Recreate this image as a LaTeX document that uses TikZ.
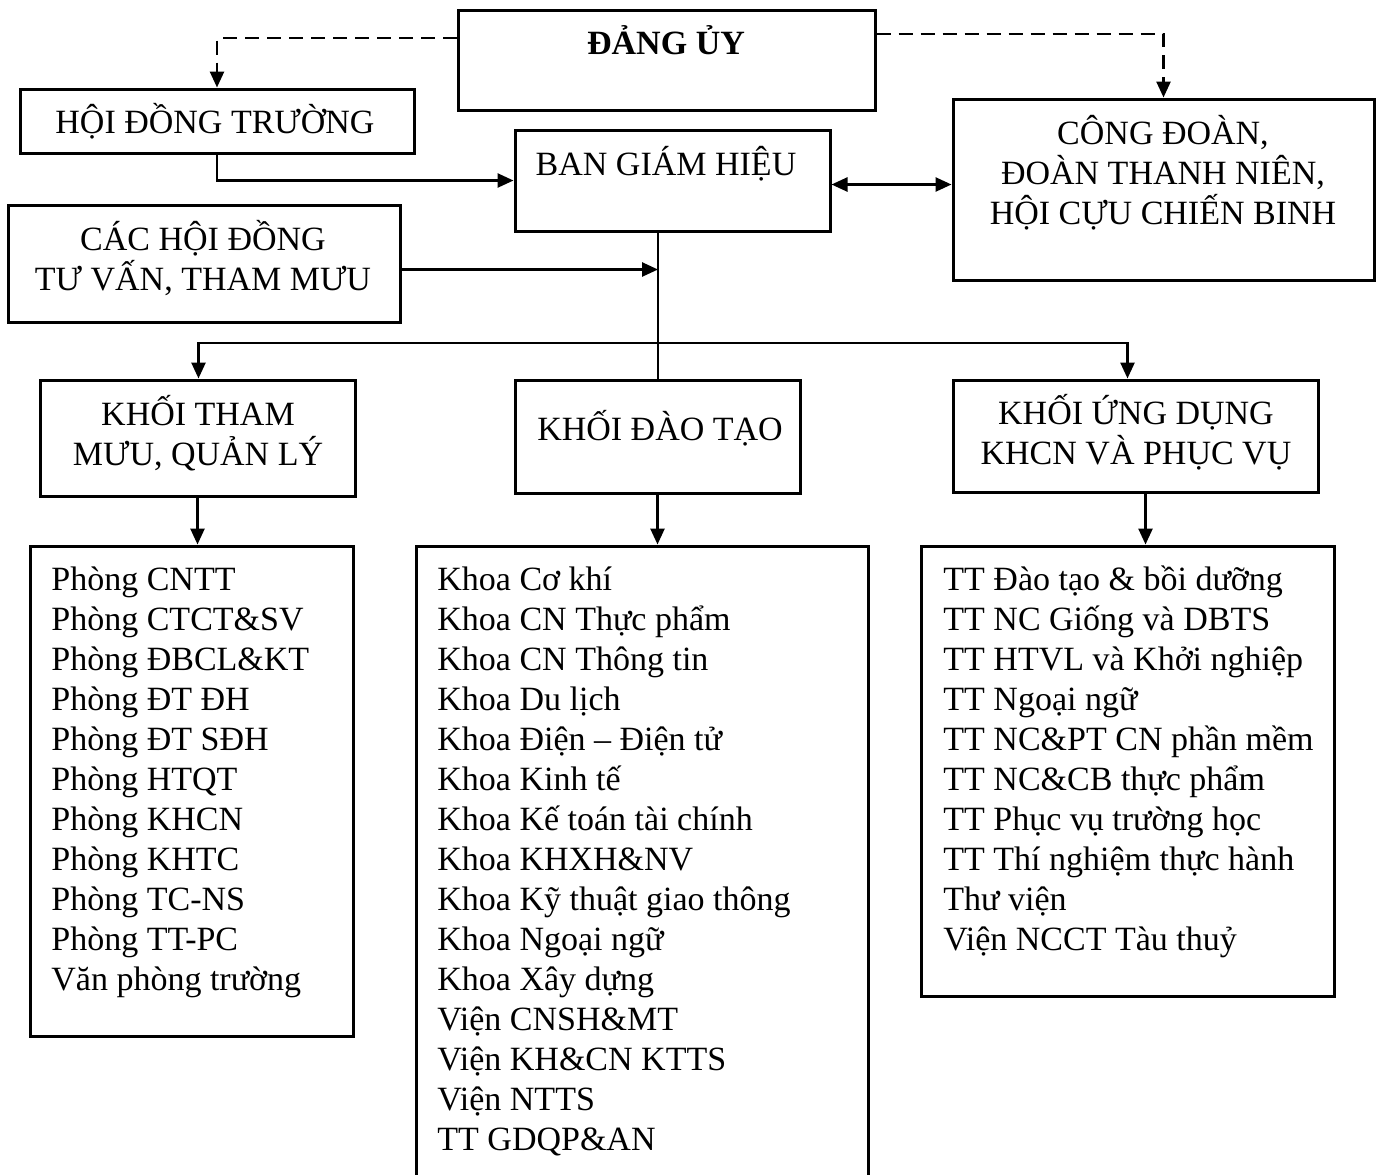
\documentclass[tikz,border=0pt]{standalone}
\usepackage{fontspec}
\setmainfont{Liberation Serif}
\usetikzlibrary{arrows.meta,fit}

\tikzset{
  box/.style={draw, line width=1.5pt, inner sep=0pt},
  txt/.style={font=\fontsize{17}{20}\selectfont, anchor=base, align=center, inner sep=0pt},
  item/.style={font=\fontsize{17}{20}\selectfont, anchor=base west, inner sep=0pt},
  arr/.style={line width=1.3pt, -{Triangle[length=8pt,width=7pt]}},
  biarr/.style={line width=1.3pt, {Triangle[length=8pt,width=7pt]}-{Triangle[length=8pt,width=7pt]}},
  dashline/.style={arr, dash pattern=on 7pt off 4pt}
}

\begin{document}
\begin{tikzpicture}[x=0.5pt, y=-0.5pt]
\useasboundingbox (0,0) rectangle (1384,1174);

\node[box, fit={(458,10) (875,110)}] (dang) {};
\node[box, fit={(20,89) (414,153)}] (hdt) {};
\node[box, fit={(515,130) (830,231)}] (bgh) {};
\node[box, fit={(953,99) (1374,280)}] (cd) {};
\node[box, fit={(8,205) (400,322)}] (chd) {};
\node[box, fit={(40,380) (355,496)}] (ktm) {};
\node[box, fit={(515,380) (800,493)}] (kdt) {};
\node[box, fit={(953,380) (1318,492)}] (kud) {};
\node[box, fit={(30,546) (353,1036)}] (phong) {};
\node[box, fit={(416,546) (868,1180)}] (khoa) {};
\node[box, fit={(921,546) (1334,996)}] (tt) {};

% multi-line text: anchor base sits on the last line
\node[txt, font=\fontsize{17}{20}\selectfont\bfseries] (dang-t) at (666,54) {ĐẢNG ỦY};
\node[txt] (hdt-t) at (215,133) {HỘI ĐỒNG TRƯỜNG};
\node[txt] (bgh-t) at (666,175) {BAN GIÁM HIỆU};
\node[txt] (cd-t) at (1163,224) {CÔNG ĐOÀN,\\ ĐOÀN THANH NIÊN,\\ HỘI CỰU CHIẾN BINH};
\node[txt] (chd-t) at (203,290) {CÁC HỘI ĐỒNG\\ TƯ VẤN, THAM MƯU};
\node[txt] (ktm-t) at (198,465) {KHỐI THAM\\ MƯU, QUẢN LÝ};
\node[txt] (kdt-t) at (660,440) {KHỐI ĐÀO TẠO};
\node[txt] (kud-t) at (1136,464) {KHỐI ỨNG DỤNG\\ KHCN VÀ PHỤC VỤ};

\foreach \t [count=\i from 0] in {Phòng CNTT, Phòng CTCT\&SV, Phòng ĐBCL\&KT, Phòng ĐT ĐH,
  Phòng ĐT SĐH, Phòng HTQT, Phòng KHCN, Phòng KHTC, Phòng TC-NS, Phòng TT-PC, Văn phòng trường}
  \node[item] (ph\i) at (51,590+40*\i) {\t};

\foreach \t [count=\i from 0] in {Khoa Cơ khí, Khoa CN Thực phẩm, Khoa CN Thông tin, Khoa Du lịch,
  Khoa Điện – Điện tử, Khoa Kinh tế, Khoa Kế toán tài chính, Khoa KHXH\&NV,
  Khoa Kỹ thuật giao thông, Khoa Ngoại ngữ, Khoa Xây dựng, Viện CNSH\&MT,
  Viện KH\&CN KTTS, Viện NTTS, TT GDQP\&AN}
  \node[item] (kh\i) at (437,590+40*\i) {\t};

\foreach \t [count=\i from 0] in {TT Đào tạo \& bồi dưỡng, TT NC Giống và DBTS, TT HTVL và Khởi nghiệp,
  TT Ngoại ngữ, TT NC\&PT CN phần mềm, TT NC\&CB thực phẩm, TT Phục vụ trường học,
  TT Thí nghiệm thực hành, Thư viện, Viện NCCT Tàu thuỷ}
  \node[item] (tt\i) at (943,590+40*\i) {\t};

\coordinate (bus) at (658,343);

\draw[dashline] ([yshift=11pt]dang.west) -| (hdt.north);
\draw[dashline] ([yshift=13pt]dang.east) -| (cd.north);
\draw[arr] (hdt.south) |- (bgh.west);
\draw[biarr] ([yshift=-2pt]bgh.east) -- ([yshift=-2pt]bgh.east -| cd.west);
\draw[arr] ([yshift=-3pt]chd.east) -- ([yshift=-3pt]chd.east -| bus);
\draw[line width=1.3pt] (bgh.south -| bus) -- (kdt.north -| bus);
\draw[arr] (bus) -| ([xshift=0.5pt]ktm.north);
\draw[arr] (bus) -| ([xshift=-4pt]kud.north);
\draw[arr] (ktm.south) -- (ktm.south |- phong.north);
\draw[arr] (kdt.south) -- (kdt.south |- khoa.north);
\draw[arr] ([xshift=5pt]kud.south) -- ([xshift=5pt]kud.south |- tt.north);

\end{tikzpicture}
\end{document}
